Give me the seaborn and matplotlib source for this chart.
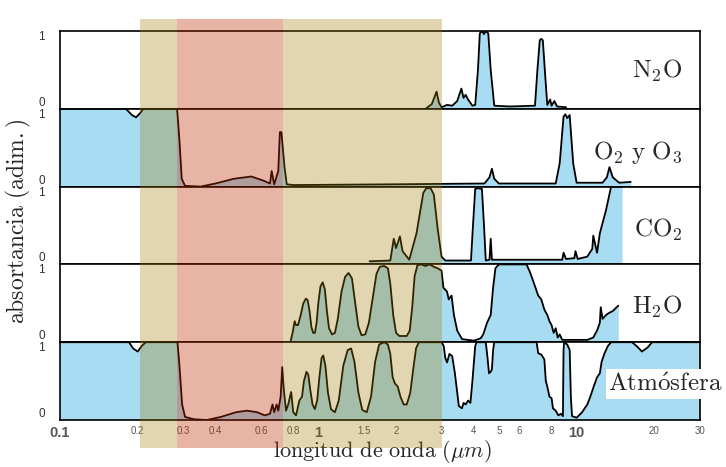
import matplotlib
matplotlib.use('Agg')
import matplotlib.pyplot as plt
import matplotlib.transforms as mtransforms
from matplotlib.patches import Rectangle
from matplotlib.ticker import FixedLocator, NullFormatter
import pandas as pd
import seaborn as sns

# ---- datos (longitud de onda en um, absortancia 0-1) ----
n2o_wl = [2.6, 2.75, 2.87, 2.93, 3.0, 3.15, 3.3, 3.45, 3.58, 3.65, 3.72, 3.8, 3.95,
          4.05, 4.15, 4.22, 4.3, 4.38, 4.45, 4.55, 4.65, 4.8, 5.5, 6.9, 7.05, 7.2,
          7.3, 7.4, 7.55, 7.7, 7.9, 8.0, 8.2, 8.4, 9.1]
n2o_abs = [0.0, 0.06, 0.22, 0.08, 0.02, 0.05, 0.04, 0.1, 0.26, 0.14, 0.18, 0.12, 0.04,
           0.05, 0.5, 0.97, 1.0, 0.96, 1.0, 0.97, 0.5, 0.04, 0.03, 0.04, 0.5, 0.88,
           0.9, 0.88, 0.45, 0.05, 0.12, 0.04, 0.1, 0.03, 0.02]

o3_wl = [0.1, 0.18, 0.19, 0.197, 0.205, 0.21, 0.284, 0.29, 0.296, 0.305, 0.35, 0.4,
         0.47, 0.55, 0.61, 0.65, 0.66, 0.675, 0.7, 0.71, 0.72, 0.74, 0.755, 0.8, 2.0,
         4.4, 4.6, 4.7, 4.8, 5.0, 8.3, 8.6, 8.9, 9.05, 9.2, 9.4, 9.7, 10.0, 12.6,
         13.1, 13.4, 13.8, 14.6, 16.2]
o3_abs = [1.0, 1.0, 0.92, 0.89, 0.95, 1.0, 1.0, 0.6, 0.1, 0.01, 0.0, 0.04,
          0.1, 0.13, 0.08, 0.04, 0.2, 0.03, 0.2, 0.7, 0.7, 0.25, 0.03, 0.02, 0.03,
          0.04, 0.12, 0.23, 0.1, 0.04, 0.04, 0.3, 0.9, 0.93, 0.88, 0.92, 0.3, 0.05, 0.05,
          0.12, 0.25, 0.12, 0.05, 0.06]

co2_wl = [1.58, 1.9, 1.96, 2.0, 2.07, 2.12, 2.25, 2.4, 2.55, 2.62, 2.72, 2.8, 2.9,
          3.0, 3.1, 3.9, 3.97, 4.05, 4.15, 4.3, 4.38, 4.45, 4.6, 4.65, 4.7, 8.8, 8.9,
          9.1, 9.8, 9.9, 10.1, 11.0, 11.5, 11.6, 12.0, 12.3, 13.0, 13.6, 15.0]
co2_abs = [0.04, 0.05, 0.33, 0.21, 0.36, 0.17, 0.06, 0.4, 0.92, 0.98, 0.98, 0.9, 0.45,
           0.1, 0.05, 0.05, 0.5, 0.97, 0.98, 0.97, 0.5, 0.05, 0.06, 0.33, 0.06, 0.06, 0.15,
           0.07, 0.08, 0.17, 0.07, 0.1, 0.2, 0.37, 0.15, 0.4, 0.7, 1.0, 1.0]

h2o_wl = [0.78, 0.795, 0.81, 0.82, 0.835, 0.855, 0.875, 0.895, 0.91, 0.925, 0.94,
          0.955, 0.97, 0.985, 1.0, 1.02, 1.04, 1.06, 1.08, 1.1, 1.13, 1.16, 1.19,
          1.23, 1.27, 1.31, 1.35, 1.39, 1.43, 1.47, 1.52, 1.57, 1.63, 1.68, 1.73,
          1.8, 1.86, 1.9, 1.95, 2.0, 2.06, 2.2, 2.26, 2.31, 2.36, 2.42, 2.5, 2.6,
          2.7, 2.8, 2.9, 3.0, 3.05, 3.15, 3.2, 3.28, 3.35, 3.45, 3.6, 4.0, 4.25, 4.35,
          4.5, 4.65, 4.75, 4.85, 5.0, 6.4, 6.6, 6.8, 6.9, 7.1, 7.3, 7.5, 7.7, 7.85,
          8.0, 8.15, 8.3, 8.45, 8.6, 8.8, 11.0, 11.6, 12.0, 12.3, 12.4, 12.6, 13.0,
          13.4, 13.8, 14.5]
h2o_abs = [0.0, 0.12, 0.27, 0.22, 0.22, 0.35, 0.5, 0.56, 0.54, 0.4, 0.2,
           0.12, 0.12, 0.25, 0.5, 0.72, 0.77, 0.68, 0.4, 0.18, 0.1, 0.12, 0.3,
           0.65, 0.84, 0.89, 0.82, 0.5, 0.2, 0.09, 0.1, 0.25, 0.6, 0.88, 0.97,
           0.98, 0.95, 0.75, 0.35, 0.12, 0.08, 0.08, 0.15, 0.45, 0.85, 0.99, 1.0, 0.98,
           1.0, 0.97, 0.95, 0.92, 0.7, 0.65, 0.55, 0.6, 0.35, 0.15, 0.04, 0.02, 0.05, 0.1,
           0.25, 0.35, 0.7, 0.95, 1.0, 1.0, 0.9, 0.78, 0.72, 0.6, 0.55, 0.42, 0.35, 0.27,
           0.22, 0.12, 0.18, 0.06, 0.1, 0.03, 0.03, 0.06, 0.15, 0.25, 0.45, 0.3, 0.35,
           0.38, 0.4, 0.47]

atm_wl = [0.1, 0.185, 0.192, 0.2, 0.207, 0.215, 0.285, 0.29, 0.297, 0.305, 0.33, 0.37,
          0.42, 0.48, 0.53, 0.58, 0.62, 0.65, 0.665, 0.675, 0.69, 0.7, 0.715, 0.725,
          0.735, 0.75, 0.765, 0.785, 0.8, 0.82, 0.845, 0.865, 0.88, 0.9, 0.915, 0.93,
          0.95, 0.97, 0.99, 1.01, 1.03, 1.045, 1.065, 1.09, 1.12, 1.16, 1.2, 1.25, 1.3,
          1.34, 1.38, 1.43, 1.48, 1.54, 1.6, 1.66, 1.72, 1.8, 1.86, 1.9, 1.94, 1.98,
          2.03, 2.08, 2.14, 2.2, 2.27, 2.33, 2.39, 2.45, 3.0,
          3.06, 3.1, 3.15, 3.22, 3.3, 3.38, 3.45, 3.5, 3.6, 3.65, 3.72, 3.8, 3.88, 3.95,
          4.05, 4.1, 4.45, 4.52, 4.58, 4.65, 4.7, 4.75, 4.8, 7.0, 7.1, 7.3, 7.5, 7.6,
          7.7, 7.85, 8.0, 8.1, 8.3, 8.5, 8.7, 8.85, 8.9, 8.95, 9.2, 9.4, 9.5, 9.6, 10.0,
          10.5, 11.0, 11.3, 11.7, 12.0, 12.3, 12.5, 12.8, 13.2, 13.6, 16.4, 17.2, 17.9,
          18.8, 19.6, 30.0]
atm_abs = [1.0, 1.0, 0.92, 0.88, 0.95, 1.0, 1.0, 0.7, 0.2, 0.04, 0.01, 0.0,
           0.04, 0.1, 0.12, 0.1, 0.06, 0.08, 0.2, 0.1, 0.2, 0.12, 0.3, 0.68,
           0.4, 0.12, 0.2, 0.36, 0.1, 0.06, 0.25, 0.3, 0.5, 0.62, 0.58, 0.4,
           0.2, 0.14, 0.25, 0.55, 0.8, 0.83, 0.7, 0.35, 0.14, 0.1, 0.25, 0.7, 0.9,
           0.92, 0.75, 0.35, 0.13, 0.1, 0.3, 0.75, 0.97, 1.0, 0.97, 0.85, 0.55, 0.47,
           0.43, 0.3, 0.2, 0.2, 0.35, 0.65, 0.92, 1.0, 1.0,
           0.95, 0.8, 0.74, 0.85, 0.82, 0.6, 0.35, 0.18, 0.15, 0.22, 0.2, 0.25, 0.22, 0.5,
           0.95, 1.0, 1.0, 0.8, 0.6, 0.62, 0.65, 0.9, 1.0, 1.0, 0.86, 0.84, 0.78, 0.5,
           0.43, 0.3, 0.28, 0.15, 0.12, 0.06, 0.08, 0.05, 0.9, 1.0, 0.97, 0.9, 0.3, 0.05, 0.03,
           0.1, 0.2, 0.3, 0.45, 0.55, 0.6, 0.75, 0.85, 0.95, 1.0, 1.0, 0.94, 0.88,
           0.93, 1.0, 1.0]

paneles = [
    (r'$\mathrm{N_2O}$', n2o_wl, n2o_abs),
    (r'$\mathrm{O_2\ y\ O_3}$', o3_wl, o3_abs),
    (r'$\mathrm{CO_2}$', co2_wl, co2_abs),
    (r'$\mathrm{H_2O}$', h2o_wl, h2o_abs),
    (r'$\mathrm{Atm\acute{o}sfera}$', atm_wl, atm_abs),
]

# bandas de color (um): color y transparencia
bandas = [(0.204, 0.284, '#a07a00', 0.3), (0.284, 0.73, '#bd2900', 0.35),
          (0.73, 3.0, '#a07a00', 0.3)]

ticks_x = [0.1, 0.2, 0.3, 0.4, 0.6, 0.8, 1, 1.5, 2, 3, 4, 5, 6, 8, 10, 20, 30]
etiquetas_x = ['0.1', '0.2', '0.3', '0.4', '0.6', '0.8', '1', '1.5', '2', '3', '4',
               '5', '6', '8', '10', '20', '30']
ticks_menores = [0.5, 0.7, 7, 15]

sns.set_style('white')
plt.rcParams['mathtext.fontset'] = 'cm'
plt.rcParams['font.family'] = ['Liberation Sans', 'DejaVu Sans']

azul = '#a8dcf2'

fig, axes = plt.subplots(5, 1, figsize=(7.26, 4.67), dpi=100, sharex=True)
fig.subplots_adjust(left=0.0826, right=0.964, bottom=0.1006, top=0.9336, hspace=0)

posiciones_y = [0.49, 0.44, 0.45, 0.46, 0.46]

for i, (ax, (nombre, wl, ab)) in enumerate(zip(axes, paneles)):
    df = pd.DataFrame({'wl': wl, 'abs': ab})
    ax.fill_between(df['wl'], 0, df['abs'], color=azul, lw=0, zorder=1)
    sns.lineplot(data=df, x='wl', y='abs', ax=ax, color='black', lw=1.3,
                 estimator=None, sort=False, zorder=2)
    ax.set_xscale('log')
    ax.set_xlim(0.1, 30)
    ax.set_ylim(0, 1.0)
    ax.set_xlabel('')
    ax.set_ylabel('')
    ax.set_yticks([0, 1])
    ax.set_yticklabels(['0', '1'], fontsize=8.5, color='#333333')
    labs = ax.get_yticklabels()
    labs[0].set_va('bottom')
    labs[1].set_va('top')
    ax.tick_params(axis='y', length=0, pad=11)
    for s in ax.spines.values():
        s.set_color('black')
        s.set_linewidth(1.2)
    if i == 4:
        ax.text(1.036, posiciones_y[i], nombre, transform=ax.transAxes, ha='right',
                va='center', fontsize=18, zorder=5, clip_on=False,
                bbox=dict(facecolor='white', edgecolor='none', pad=2))
    else:
        ax.text(0.973, posiciones_y[i], nombre, transform=ax.transAxes, ha='right',
                va='center', fontsize=18, zorder=5)

ax_b = axes[-1]
ax_b.xaxis.set_major_locator(FixedLocator(ticks_x))
ax_b.set_xticklabels(etiquetas_x)
ax_b.xaxis.set_minor_locator(FixedLocator(ticks_menores))
ax_b.xaxis.set_minor_formatter(NullFormatter())
for ax in axes[:-1]:
    ax.tick_params(axis='x', which='both', bottom=False, labelbottom=False)
ax_b.tick_params(axis='x', which='major', direction='in', length=5, width=1,
                 color='#333333', labelsize=7, labelcolor='#555555', pad=4)
ax_b.tick_params(axis='x', which='minor', direction='in', length=4, width=1,
                 color='#333333')
for t in ax_b.get_xticklabels():
    if t.get_text() in ('0.1', '1', '10'):
        t.set_fontsize(10.5)
        t.set_fontweight('bold')

# bandas superpuestas (desde arriba de la figura hasta debajo de las etiquetas)
trans = mtransforms.blended_transform_factory(ax_b.transData, fig.transFigure)
for x0, x1, c, a in bandas:
    fig.add_artist(Rectangle((x0, 1 - 448 / 467), x1 - x0, (448 - 19) / 467,
                             transform=trans, facecolor=c, alpha=a,
                             edgecolor='none', zorder=10))

fig.text(0.025, 0.525, r'$\mathrm{absortancia\ (adim.)}$', rotation=90,
         ha='center', va='center', fontsize=17)
fig.text(0.527, 0.033, r'$\mathrm{longitud\ de\ onda}\ (\mu m)$', ha='center',
         va='center', fontsize=16)

fig.savefig('out.png', dpi=100)
